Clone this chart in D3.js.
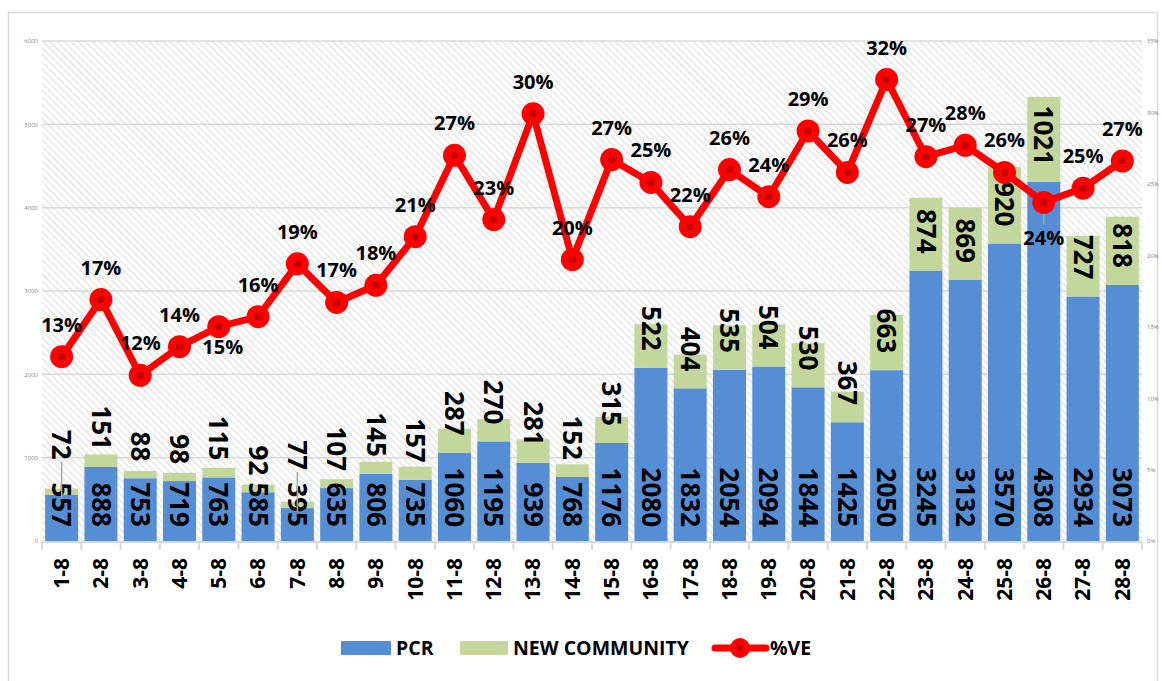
<!DOCTYPE html>
<html>
<head>
<meta charset="utf-8">
<script src="https://cdn.jsdelivr.net/npm/d3@7"></script>
<style>
  body { margin: 0; background: #fff; }
  svg text { font-family: "Open Sans", "Noto Sans", sans-serif; }
  .val { font-weight: 700; fill: #000; }
  .tick-lbl { font-size: 6px; fill: #7f7f7f; }
</style>
</head>
<body>
<div id="chart"></div>
<script>
// daily PCR + new community counts with %VE line

const dates = ["1-8","2-8","3-8","4-8","5-8","6-8","7-8","8-8","9-8","10-8","11-8","12-8","13-8","14-8",
               "15-8","16-8","17-8","18-8","19-8","20-8","21-8","22-8","23-8","24-8","25-8","26-8","27-8","28-8"];
const pcr = [557,888,753,719,763,585,395,635,806,735,1060,1195,939,768,
             1176,2080,1832,2054,2094,1844,1425,2050,3245,3132,3570,4308,2934,3073];
const newCommunity = [72,151,88,98,115,92,77,107,145,157,287,270,281,152,
                      315,522,404,535,504,530,367,663,874,869,920,1021,727,818];
const ve = [12.9,16.9,11.6,13.6,15.0,15.7,19.4,16.7,17.9,21.3,27.0,22.5,29.9,19.7,
            26.7,25.1,22.0,26.0,24.1,28.7,25.8,32.3,26.9,27.7,25.8,23.7,24.7,26.6];
const leftTicks = [0,1000,2000,3000,4000,5000,6000];
const rightTicks = [0,0.05,0.10,0.15,0.20,0.25,0.30,0.35];

// label placement tweaks (manual drags in the original)
const veLabelBelow = { "5-8": 20, "26-8": 36 };
const newLabelNudge = { "1-8": -18, "7-8": -21 };

const width = 1162, height = 681;
const plot = { left: 42, right: 1142, top: 41, bottom: 541 };
const blue = "#558ed5", green = "#c3d69b", red = "#ff0000";

const data = dates.map((d, i) => ({ date: d, pcr: pcr[i], nc: newCommunity[i], ve: ve[i] / 100 }));

const svg = d3.select("#chart").append("svg")
    .attr("width", width)
    .attr("height", height);

const defs = svg.append("defs");
const pat = defs.append("pattern")
    .attr("id", "hatch")
    .attr("patternUnits", "userSpaceOnUse")
    .attr("width", 5)
    .attr("height", 5)
    .attr("patternTransform", "rotate(-45)");
pat.append("rect").attr("width", 5).attr("height", 5).attr("fill", "#fff");
pat.append("line")
    .attr("x1", 1).attr("y1", 0).attr("x2", 1).attr("y2", 5)
    .attr("stroke", "#e0e0e0").attr("stroke-width", 1.3);

// outer frame
svg.append("rect")
    .attr("x", 8.5).attr("y", 12.5)
    .attr("width", 1149).attr("height", 690)
    .attr("fill", "none")
    .attr("stroke", "#d9d9d9")
    .attr("stroke-width", 1.5);

const x = d3.scaleBand()
    .domain(dates)
    .range([plot.left, plot.right])
    .paddingInner(0.16)
    .paddingOuter(0.08);

const y = d3.scaleLinear().domain([0, 6000]).range([plot.bottom, plot.top]);
const yR = d3.scaleLinear().domain([0, 0.35]).range([plot.bottom, plot.top]);

svg.append("rect")
    .attr("x", plot.left).attr("y", plot.top)
    .attr("width", plot.right - plot.left)
    .attr("height", plot.bottom - plot.top)
    .attr("fill", "url(#hatch)");

// gridlines
svg.append("g")
    .selectAll("line")
    .data(leftTicks.slice(1))
    .enter()
    .append("line")
    .attr("x1", plot.left).attr("x2", plot.right)
    .attr("y1", d => y(d)).attr("y2", d => y(d))
    .attr("stroke", "#d9d9d9")
    .attr("stroke-width", 1.5);

// axes
const gLeft = svg.append("g")
    .attr("transform", `translate(${plot.left - 4},0)`)
    .call(d3.axisLeft(y).tickValues(leftTicks).tickSize(0).tickFormat(d3.format("d")));
gLeft.select(".domain").remove();
gLeft.selectAll("text").attr("class", "tick-lbl").attr("x", 0);

const gRight = svg.append("g")
    .attr("transform", `translate(${plot.right + 5},0)`)
    .call(d3.axisRight(yR).tickValues(rightTicks).tickSize(0).tickFormat(d3.format(".0%")));
gRight.select(".domain").remove();
gRight.selectAll("text").attr("class", "tick-lbl").attr("x", 0);

// bars
const gBars = svg.append("g");
gBars.selectAll(".pcr")
    .data(data)
    .enter()
    .append("rect")
    .attr("class", "pcr")
    .attr("x", d => x(d.date))
    .attr("y", d => y(d.pcr))
    .attr("width", x.bandwidth())
    .attr("height", d => y(0) - y(d.pcr))
    .attr("fill", blue);

gBars.selectAll(".nc")
    .data(data)
    .enter()
    .append("rect")
    .attr("class", "nc")
    .attr("x", d => x(d.date))
    .attr("y", d => y(d.pcr + d.nc))
    .attr("width", x.bandwidth())
    .attr("height", d => y(d.pcr) - y(d.pcr + d.nc))
    .attr("fill", green);

// bottom axis line and ticks
const step = x.step();
const gX = svg.append("g");
gX.append("line")
    .attr("x1", plot.left).attr("x2", plot.right)
    .attr("y1", plot.bottom + 1).attr("y2", plot.bottom + 1)
    .attr("stroke", "#d9d9d9").attr("stroke-width", 2);
gX.selectAll(".xt")
    .data(d3.range(dates.length + 1))
    .enter()
    .append("line")
    .attr("x1", i => plot.left + i * step)
    .attr("x2", i => plot.left + i * step)
    .attr("y1", plot.bottom + 1).attr("y2", plot.bottom + 9)
    .attr("stroke", "#d9d9d9").attr("stroke-width", 2);

gX.selectAll("text")
    .data(dates)
    .enter()
    .append("text")
    .attr("class", "val")
    .attr("transform", d => `translate(${x(d) + x.bandwidth() / 2},${plot.bottom + 17}) rotate(-90)`)
    .attr("text-anchor", "end")
    .attr("dy", "0.35em")
    .style("font-size", "21px")
    .text(d => d);

// bar labels
const cx = d => x(d.date) + x.bandwidth() / 2;
gBars.selectAll(".pcr-label")
    .data(data)
    .enter()
    .append("text")
    .attr("class", "val pcr-label")
    .attr("transform", d => `translate(${cx(d)},${y(0) - 14}) rotate(90)`)
    .attr("text-anchor", "end")
    .attr("dy", "0.36em")
    .style("font-size", "26px")
    .text(d => d.pcr);

const ncEnd = d => y(d.pcr) - 17 + (newLabelNudge[d.date] || 0);
gBars.selectAll(".nc-leader")
    .data(data.filter(d => newLabelNudge[d.date]))
    .enter()
    .append("line")
    .attr("x1", cx).attr("x2", cx)
    .attr("y1", d => ncEnd(d) + 2)
    .attr("y2", d => y(d.pcr) + 4)
    .attr("stroke", "#a6a6a6").attr("stroke-width", 1.5);

gBars.selectAll(".nc-label")
    .data(data)
    .enter()
    .append("text")
    .attr("class", "val nc-label")
    .attr("transform", d => `translate(${cx(d)},${ncEnd(d)}) rotate(90)`)
    .attr("text-anchor", "end")
    .attr("dy", "0.36em")
    .style("font-size", "26px")
    .text(d => d.nc);

// %VE line
const gLine = svg.append("g");
gLine.append("path")
    .datum(data)
    .attr("fill", "none")
    .attr("stroke", red)
    .attr("stroke-width", 7)
    .attr("stroke-linejoin", "round")
    .attr("d", d3.line().x(cx).y(d => yR(d.ve)));

gLine.selectAll(".ve-leader")
    .data(data.filter(d => veLabelBelow[d.date] > 30))
    .enter()
    .append("line")
    .attr("x1", cx).attr("x2", cx)
    .attr("y1", d => yR(d.ve))
    .attr("y2", d => yR(d.ve) + veLabelBelow[d.date] - 14)
    .attr("stroke", "#a6a6a6").attr("stroke-width", 1.5);

gLine.selectAll(".mk")
    .data(data)
    .enter()
    .append("circle")
    .attr("cx", cx).attr("cy", d => yR(d.ve))
    .attr("r", 11.5)
    .attr("fill", red);

gLine.selectAll(".mk-in")
    .data(data)
    .enter()
    .append("circle")
    .attr("cx", cx).attr("cy", d => yR(d.ve))
    .attr("r", 3.5)
    .attr("fill", "#c00000");

gLine.selectAll(".ve-label")
    .data(data)
    .enter()
    .append("text")
    .attr("class", "val")
    .attr("x", d => cx(d) + (veLabelBelow[d.date] && veLabelBelow[d.date] < 30 ? 4 : 0))
    .attr("y", d => yR(d.ve) + (veLabelBelow[d.date] || -32))
    .attr("dy", "0.35em")
    .attr("text-anchor", "middle")
    .style("font-size", "20px")
    .text(d => Math.round(d.ve * 100) + "%");

// legend
const lg = svg.append("g").style("font-size", "19.5px");
lg.append("rect").attr("x", 341).attr("y", 641).attr("width", 50).attr("height", 14).attr("fill", blue);
lg.append("text").attr("class", "val").attr("x", 396).attr("y", 648).attr("dy", "0.35em").text("PCR");
lg.append("rect").attr("x", 460).attr("y", 641).attr("width", 48).attr("height", 14).attr("fill", green);
lg.append("text").attr("class", "val").attr("x", 513).attr("y", 648).attr("dy", "0.35em").text("NEW COMMUNITY");
lg.append("line").attr("x1", 715).attr("x2", 766).attr("y1", 648).attr("y2", 648)
    .attr("stroke", red).attr("stroke-width", 7).attr("stroke-linecap", "round");
lg.append("circle").attr("cx", 740).attr("cy", 648).attr("r", 10).attr("fill", red);
lg.append("circle").attr("cx", 740).attr("cy", 648).attr("r", 3).attr("fill", "#c00000");
lg.append("text").attr("class", "val").attr("x", 770).attr("y", 648).attr("dy", "0.35em").text("%VE");
</script>
</body>
</html>
